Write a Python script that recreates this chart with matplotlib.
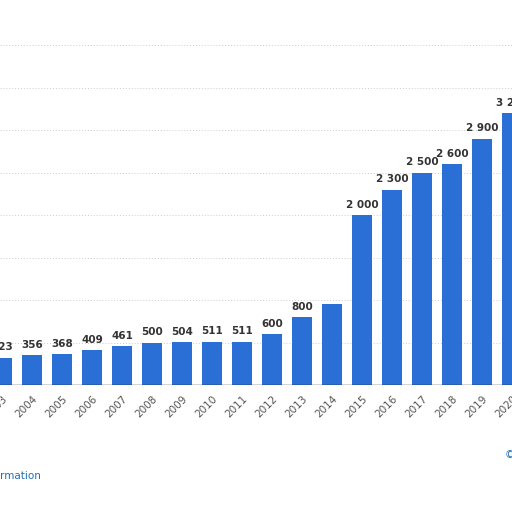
import matplotlib
matplotlib.use("Agg")
import matplotlib.pyplot as plt

years = list(range(2003, 2021))
values = [323, 356, 368, 409, 461, 500, 504, 511, 511, 600, 800, 950, 2000, 2300, 2500, 2600, 2900, 3200]
labels = ["323", "356", "368", "409", "461", "500", "504", "511", "511", "600", "800", "", "2 000", "2 300", "2 500", "2 600", "2 900", "3 200"]

fig = plt.figure(figsize=(5.12, 5.12), dpi=100)
fig.patch.set_facecolor("white")
ax = fig.add_axes([0, 0.248, 1, 0.752])
ax.bar(years, values, width=0.66, color="#2a6fd6", zorder=3)
for y, v, l in zip(years, values, labels):
    ax.text(y, v + 60, l, ha="center", va="bottom", fontsize=7.5, fontweight="bold", color="#333333")
ax.set_xlim(2002.93, 2020.0)
ax.set_ylim(0, 4530)
for g in range(500, 4500, 500):
    ax.axhline(g, color="#cccccc", linestyle=(0, (1, 2)), linewidth=0.7, zorder=1)
ax.axhline(0, color="#222222", linewidth=1, zorder=4)
ax.set_xticks(years)
ax.set_xticklabels([str(y) for y in years], rotation=45, ha="right", rotation_mode="anchor", fontsize=7.5, color="#555555")
ax.tick_params(axis="x", length=0, pad=6)
ax.set_yticks([])
for s in ax.spines.values():
    s.set_visible(False)
fig.text(0.0, 0.065, "rmation", color="#1f6fb5", fontsize=7.5)
fig.text(0.985, 0.105, "©", color="#1f6fb5", fontsize=7.5)
fig.savefig("out.png", dpi=100)
